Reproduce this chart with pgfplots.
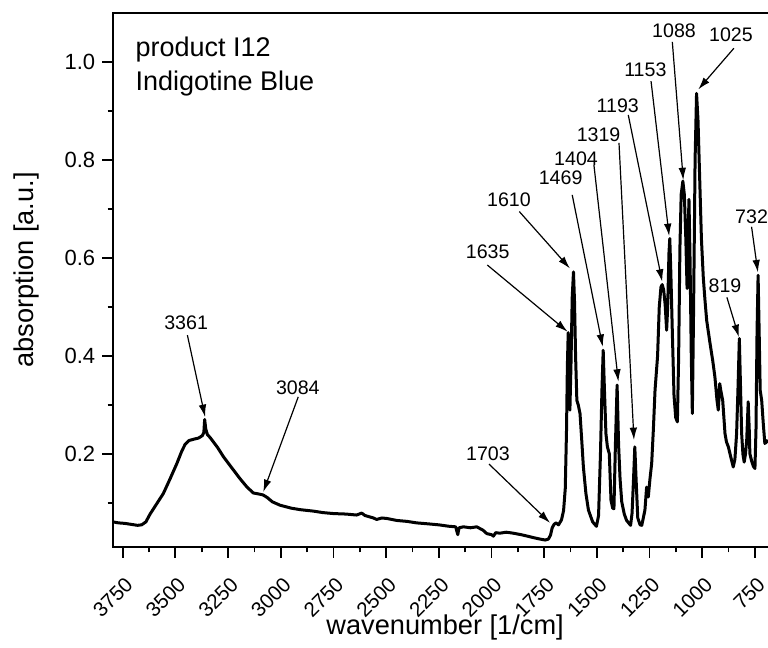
\documentclass[border=0pt]{standalone}
\usepackage{fontspec}
\setmainfont{Liberation Sans}
\usepackage{pgfplots}
\pgfplotsset{compat=1.18}
\usetikzlibrary{arrows.meta}
\tikzset{
  ann/.style={font=\fontsize{9.8}{11}\selectfont},
  arr/.style={-{Latex[length=6.2pt,width=3.8pt]}, line width=0.6pt},
}

\begin{document}
\begin{tikzpicture}
\begin{axis}[
  scale only axis, width=327.5pt, height=267pt,
  x dir=reverse, xmin=688, xmax=3796, ymin=0.0108, ymax=1.1,
  clip=false,
  axis line style={draw=none},
  tick align=outside, xtick pos=left, ytick pos=left,
  xtick={750,1000,...,3750}, minor xtick={875,1125,...,3625},
  ytick={0.2,0.4,0.6,0.8,1.0}, minor ytick={0.1,0.3,0.5,0.7,0.9},
  major tick length=5.35pt, minor tick length=2.7pt,
  every tick/.style={black, line width=0.9pt},
  /pgf/number format/assume math mode=true,
  xticklabel style={font=\fontsize{10.3}{12}\selectfont, xshift=0.6pt, yshift=-4.2pt, rotate=45, anchor=north east, /pgf/number format/set thousands separator={}},
  yticklabel style={font=\fontsize{11}{13}\selectfont, /pgf/number format/.cd, fixed, fixed zerofill, precision=1},
  xlabel={wavenumber [1/cm]}, ylabel={absorption [a.u.]},
  label style={font=\fontsize{13.6}{16}\selectfont},
  xlabel style={at={(axis description cs:0.5,0)}, anchor=center, xshift=2.3pt, yshift=-40pt},
  ylabel style={at={(ticklabel cs:0.519)}},
  ylabel shift=6pt,
]
\addplot[black, line width=1.5pt, line join=round, mark=none] coordinates {
(3796,0.062) (3770,0.060) (3740,0.059) (3710,0.057) (3680,0.055) (3660,0.056)
(3640,0.062) (3620,0.078) (3590,0.098) (3557,0.120) (3525,0.150) (3493,0.181)
(3470,0.206) (3454,0.220) (3435,0.228) (3410,0.231) (3390,0.233) (3372,0.238)
(3365,0.244) (3361,0.271) (3356,0.252) (3348,0.240) (3335,0.234) (3300,0.214)
(3272,0.195) (3230,0.171) (3193,0.150) (3160,0.133) (3130,0.121) (3105,0.119)
(3084,0.117) (3065,0.112) (3040,0.103) (3003,0.096) (2950,0.090) (2908,0.087)
(2845,0.084) (2800,0.081) (2750,0.079) (2690,0.078) (2640,0.076) (2616,0.080)
(2600,0.075) (2560,0.070) (2545,0.067) (2520,0.070) (2497,0.069) (2450,0.065)
(2400,0.063) (2355,0.060) (2300,0.058) (2250,0.056) (2200,0.053) (2170,0.052)
(2160,0.036) (2154,0.050) (2133,0.052) (2100,0.050) (2070,0.052) (2040,0.045)
(2022,0.038) (2000,0.036) (1991,0.033) (1980,0.040) (1960,0.039) (1930,0.041)
(1897,0.039) (1860,0.036) (1830,0.033) (1802,0.030) (1770,0.027) (1745,0.025)
(1730,0.027) (1720,0.035) (1712,0.050) (1703,0.057) (1694,0.060) (1682,0.056)
(1668,0.066) (1658,0.085) (1650,0.13) (1644,0.25) (1640,0.38) (1636,0.448)
(1632,0.40) (1628,0.29) (1623,0.38) (1617,0.52) (1611,0.572) (1606,0.51)
(1601,0.40) (1595,0.31) (1588,0.30) (1580,0.283) (1572,0.23) (1564,0.174)
(1552,0.12) (1540,0.086) (1520,0.062) (1502,0.053) (1492,0.075) (1483,0.20)
(1476,0.33) (1470,0.412) (1464,0.33) (1457,0.242) (1450,0.215) (1441,0.201)
(1433,0.106) (1425,0.090) (1419,0.089) (1412,0.22) (1404,0.341) (1397,0.22)
(1390,0.150) (1382,0.103) (1370,0.078) (1359,0.065) (1340,0.055) (1333,0.080)
(1326,0.150) (1320,0.215) (1314,0.15) (1306,0.070) (1295,0.056) (1287,0.055)
(1272,0.086) (1264,0.133) (1256,0.113) (1248,0.150) (1240,0.181) (1232,0.250)
(1224,0.331) (1212,0.400) (1204,0.500) (1196,0.541) (1190,0.546) (1183,0.535)
(1176,0.505) (1169,0.453) (1164,0.50) (1158,0.61) (1154,0.640) (1149,0.57)
(1142,0.45) (1134,0.32) (1126,0.275) (1118,0.266) (1112,0.40) (1106,0.62)
(1100,0.73) (1092,0.757) (1085,0.73) (1078,0.64) (1072,0.538) (1067,0.65)
(1063,0.72) (1058,0.60) (1052,0.40) (1047,0.283) (1041,0.50) (1034,0.80)
(1027,0.936) (1020,0.88) (1012,0.76) (1004,0.64) (995,0.56) (987,0.514)
(979,0.473) (963,0.426) (950,0.39) (940,0.358) (930,0.31) (924,0.29)
(917,0.344) (912,0.33) (903,0.31) (892,0.242) (885,0.225) (876,0.215)
(865,0.195) (853,0.174) (845,0.19) (837,0.242) (830,0.34) (824,0.436)
(818,0.33) (813,0.242) (807,0.20) (801,0.184) (795,0.20) (789,0.229)
(782,0.307) (777,0.25) (774,0.201) (765,0.185) (757,0.175) (750,0.171)
(745,0.25) (740,0.45) (735,0.565) (730,0.45) (725,0.33) (718,0.31)
(710,0.26) (703,0.222) (695,0.225) (688,0.229)
};
% sample description
\node[anchor=west, inner sep=0pt, font=\fontsize{13.5}{16}\selectfont] at (axis cs:3691,1.0245) {product I12};
\node[anchor=west, inner sep=0pt, font=\fontsize{13.5}{16}\selectfont] at (axis cs:3691,0.957) {Indigotine Blue};
% peak annotations
\node[ann] at (axis cs:3449,0.468) {3361};
\draw[arr] (axis cs:3443,0.443) -- (axis cs:3359,0.276);
\node[ann] at (axis cs:2919,0.336) {3084};
\draw[arr] (axis cs:2917,0.317) -- (axis cs:3083,0.123);
\node[ann] at (axis cs:2017,0.200) {1703};
\draw[arr] (axis cs:2012,0.180) -- (axis cs:1722,0.060);
\node[ann] at (axis cs:2018,0.613) {1635};
\draw[arr] (axis cs:2020,0.586) -- (axis cs:1639,0.450);
\node[ann] at (axis cs:1917,0.720) {1610};
\draw[arr] (axis cs:1868,0.695) -- (axis cs:1628,0.579);
\node[ann] at (axis cs:1672,0.763) {1469};
\draw[arr] (axis cs:1617,0.729) -- (axis cs:1472,0.419);
\node[ann] at (axis cs:1599,0.803) {1404};
\draw[arr] (axis cs:1514,0.790) -- (axis cs:1398,0.348);
\node[ann] at (axis cs:1492,0.851) {1319};
\draw[arr] (axis cs:1395,0.835) -- (axis cs:1324,0.229);
\node[ann] at (axis cs:1401,0.910) {1193};
\draw[arr] (axis cs:1351,0.892) -- (axis cs:1190,0.552);
\node[ann] at (axis cs:1270,0.984) {1153};
\draw[arr] (axis cs:1243,0.961) -- (axis cs:1157,0.645);
\node[ann] at (axis cs:1134,1.063) {1088};
\draw[arr] (axis cs:1142,1.041) -- (axis cs:1090,0.759);
\node[ann] at (axis cs:864,1.055) {1025};
\draw[arr] (axis cs:850,1.028) -- (axis cs:1019,0.944);
\node[ann] at (axis cs:892,0.543) {819};
\draw[arr] (axis cs:883,0.520) -- (axis cs:826,0.439);
\node[ann] at (axis cs:766,0.684) {732};
\draw[arr] (axis cs:766,0.664) -- (axis cs:736,0.571);
\end{axis}
\draw[line width=1pt] (current axis.south east) -- (current axis.south west) -- (current axis.north west) -- (current axis.north east);
\pgfresetboundingbox
\path[use as bounding box] ([xshift=-56.5pt,yshift=-50.15pt]current axis.south west) rectangle ([yshift=6.5pt]current axis.north east);
\end{tikzpicture}
\end{document}
